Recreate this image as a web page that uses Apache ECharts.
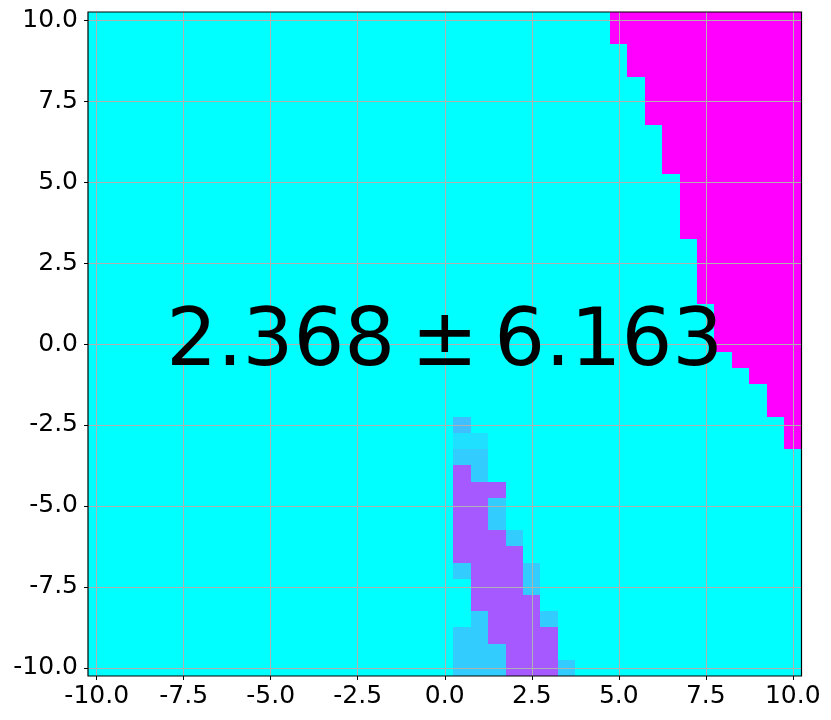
<!DOCTYPE html>
<html><head><meta charset="utf-8">
<script src="https://cdn.jsdelivr.net/npm/echarts@6/dist/echarts.min.js"></script>
<style>html,body{margin:0;padding:0;background:#fff;}#chart{width:831px;height:720px;}</style>
</head><body><div id="chart"></div>
<script>
// Cell centres (grid of 0.5 steps), left→right and top→bottom
const xCenters = [-10,-9.5,-9,-8.5,-8,-7.5,-7,-6.5,-6,-5.5,-5,-4.5,-4,-3.5,-3,-2.5,-2,-1.5,-1,-0.5,0,0.5,1,1.5,2,2.5,3,3.5,4,4.5,5,5.5,6,6.5,7,7.5,8,8.5,9,9.5,10];
const yCenters = [10,9.5,9,8.5,8,7.5,7,6.5,6,5.5,5,4.5,4,3.5,3,2.5,2,1.5,1,0.5,0,-0.5,-1,-1.5,-2,-2.5,-3,-3.5,-4,-4.5,-5,-5.5,-6,-6.5,-7,-7.5,-8,-8.5,-9,-9.5,-10];
const tickValues = [-10,-7.5,-5,-2.5,0,2.5,5,7.5,10];
// Code → value on the colour scale (0 = cyan, 1 = magenta)
const levelValues = {'0':0, '1':0.12, '2':0.2, '3':0.25, '6':0.65, '9':1};
// One string per row (top row first); spaces only group columns by tens
const cellRows = [
"0000000000 0000000000 0000000000 9999999999 9",
"0000000000 0000000000 0000000000 9999999999 9",
"0000000000 0000000000 0000000000 0999999999 9",
"0000000000 0000000000 0000000000 0999999999 9",
"0000000000 0000000000 0000000000 0099999999 9",
"0000000000 0000000000 0000000000 0099999999 9",
"0000000000 0000000000 0000000000 0099999999 9",
"0000000000 0000000000 0000000000 0009999999 9",
"0000000000 0000000000 0000000000 0009999999 9",
"0000000000 0000000000 0000000000 0009999999 9",
"0000000000 0000000000 0000000000 0000999999 9",
"0000000000 0000000000 0000000000 0000999999 9",
"0000000000 0000000000 0000000000 0000999999 9",
"0000000000 0000000000 0000000000 0000999999 9",
"0000000000 0000000000 0000000000 0000099999 9",
"0000000000 0000000000 0000000000 0000099999 9",
"0000000000 0000000000 0000000000 0000099999 9",
"0000000000 0000000000 0000000000 0000099999 9",
"0000000000 0000000000 0000000000 0000009999 9",
"0000000000 0000000000 0000000000 0000009999 9",
"0000000000 0000000000 0000000000 0000009999 9",
"0000000000 0000000000 0000000000 0000000999 9",
"0000000000 0000000000 0000000000 0000000099 9",
"0000000000 0000000000 0000000000 0000000009 9",
"0000000000 0000000000 0000000000 0000000009 9",
"0000000000 0000000000 0300000000 0000000000 9",
"0000000000 0000000000 0110000000 0000000000 9",
"0000000000 0000000000 0220000000 0000000000 0",
"0000000000 0000000000 0620000000 0000000000 0",
"0000000000 0000000000 0666000000 0000000000 0",
"0000000000 0000000000 0662000000 0000000000 0",
"0000000000 0000000000 0662000000 0000000000 0",
"0000000000 0000000000 0666200000 0000000000 0",
"0000000000 0000000000 0666600000 0000000000 0",
"0000000000 0000000000 0266620000 0000000000 0",
"0000000000 0000000000 0066620000 0000000000 0",
"0000000000 0000000000 0066660000 0000000000 0",
"0000000000 0000000000 0026662000 0000000000 0",
"0000000000 0000000000 0226666000 0000000000 0",
"0000000000 0000000000 0222666000 0000000000 0",
"0000000000 0000000000 0222666200 0000000000 0"
];
const meanValue = 2.368;
const stdValue = 6.163;
const annotationAt = [0, 0];

const cells = [];
cellRows.forEach(function (row, j) {
  const codes = row.replace(/ /g, '');
  for (let i = 0; i < xCenters.length; i++) {
    cells.push([xCenters[i], yCenters[j], levelValues[codes.charAt(i)]]);
  }
});
const halfX = (xCenters[1] - xCenters[0]) / 2;
const halfY = (yCenters[0] - yCenters[1]) / 2;
const xMin = xCenters[0] - halfX, xMax = xCenters[xCenters.length - 1] + halfX;
const yMin = yCenters[yCenters.length - 1] - halfY, yMax = yCenters[0] + halfY;

const font = 'DejaVu Sans';
function makeAxis(min, max, margin) {
  return {
    type: 'value', z: 3, min: min, max: max,
    axisLine: { show: false, onZero: false },
    axisTick: { show: true, inside: false, length: 4, customValues: tickValues, lineStyle: { color: '#000', width: 1 } },
    axisLabel: { customValues: tickValues, margin: margin, formatter: function (v) { return v.toFixed(1); }, color: '#000', fontSize: 25, fontFamily: font },
    splitLine: { show: true, lineStyle: { color: '#b0b0b0', width: 1 } }
  };
}

const chart = echarts.init(document.getElementById('chart'), null, { renderer: 'canvas' });
chart.setOption({
  animation: false,
  backgroundColor: '#fff',
  grid: { left: 88, right: 29.5, top: 12, bottom: 44, containLabel: false, outerBoundsMode: 'none', show: true, z: 5, borderColor: '#000', borderWidth: 1.2, backgroundColor: 'transparent' },
  xAxis: makeAxis(xMin, xMax, 8),
  yAxis: makeAxis(yMin, yMax, 10),
  visualMap: { type: 'continuous', show: false, min: 0, max: 1, dimension: 2, seriesIndex: 0, inRange: { color: ['#00ffff', '#ff00ff'] } },
  series: [
    {
      type: 'custom', z: 2, clip: true,
      encode: { x: 0, y: 1 },
      data: cells,
      renderItem: function (params, api) {
        const x = api.value(0), y = api.value(1);
        const p0 = api.coord([x - halfX, y + halfY]);
        const p1 = api.coord([x + halfX, y - halfY]);
        const x0 = Math.round(p0[0]), y0 = Math.round(p0[1]);
        const x1 = Math.round(p1[0]), y1 = Math.round(p1[1]);
        const c = api.visual('color');
        return { type: 'rect', shape: { x: x0, y: y0, width: x1 - x0, height: y1 - y0 }, style: { fill: c } };
      }
    },
    {
      type: 'scatter', z: 6, symbolSize: 1, silent: true,
      itemStyle: { color: 'rgba(0,0,0,0)', opacity: 1 },
      data: [annotationAt],
      label: {
        show: true, position: 'inside', offset: [3, 0],
        formatter: function () { return meanValue.toFixed(3) + '\u2009\u00b1\u2009' + stdValue.toFixed(3); },
        fontSize: 80, fontFamily: font, color: '#000', opacity: 1
      },
      labelLayout: { hideOverlap: false }
    }
  ]
});
</script></body></html>
